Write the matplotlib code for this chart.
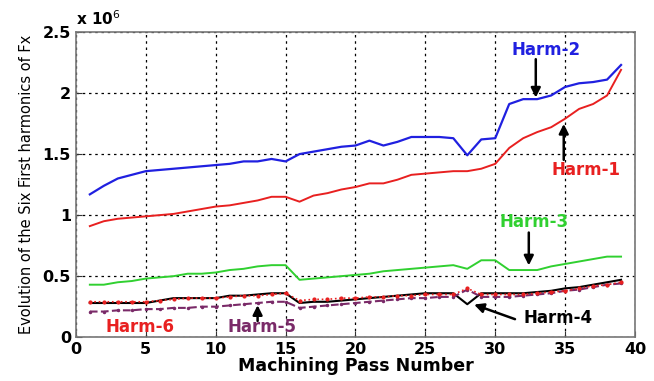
import numpy as np
import matplotlib
matplotlib.use('Agg')
import matplotlib.pyplot as plt
from matplotlib.ticker import FuncFormatter

# pass numbers 1..39
passes = list(range(1, 40))

# harmonic amplitudes in units of 1e6
harm1 = [0.91, 0.95, 0.97, 0.98, 0.99, 1.00, 1.01, 1.03, 1.05, 1.07, 1.08, 1.10, 1.12,
         1.15, 1.15, 1.11, 1.16, 1.18, 1.21, 1.23, 1.26, 1.26, 1.29, 1.33, 1.34, 1.35,
         1.36, 1.36, 1.38, 1.42, 1.55, 1.63, 1.68, 1.72, 1.79, 1.87, 1.91, 1.98, 2.19]
harm2 = [1.17, 1.24, 1.30, 1.33, 1.36, 1.37, 1.38, 1.39, 1.40, 1.41, 1.42, 1.44, 1.44,
         1.46, 1.44, 1.50, 1.52, 1.54, 1.56, 1.57, 1.61, 1.57, 1.60, 1.64, 1.64, 1.64,
         1.63, 1.49, 1.62, 1.63, 1.91, 1.95, 1.95, 1.98, 2.05, 2.08, 2.09, 2.11, 2.23]
harm3 = [0.43, 0.43, 0.45, 0.46, 0.48, 0.49, 0.50, 0.52, 0.52, 0.53, 0.55, 0.56, 0.58,
         0.59, 0.59, 0.47, 0.48, 0.49, 0.50, 0.51, 0.52, 0.54, 0.55, 0.56, 0.57, 0.58,
         0.59, 0.56, 0.63, 0.63, 0.55, 0.55, 0.55, 0.58, 0.60, 0.62, 0.64, 0.66, 0.66]
harm4 = [0.28, 0.28, 0.28, 0.28, 0.28, 0.30, 0.32, 0.32, 0.32, 0.32, 0.34, 0.34, 0.35,
         0.36, 0.36, 0.28, 0.29, 0.29, 0.30, 0.31, 0.32, 0.33, 0.34, 0.35, 0.36, 0.36,
         0.36, 0.27, 0.36, 0.36, 0.36, 0.36, 0.37, 0.38, 0.40, 0.41, 0.43, 0.45, 0.47]
harm5 = [0.21, 0.21, 0.22, 0.22, 0.23, 0.23, 0.24, 0.24, 0.25, 0.25, 0.26, 0.27, 0.28,
         0.29, 0.29, 0.24, 0.25, 0.26, 0.27, 0.28, 0.29, 0.30, 0.31, 0.32, 0.32, 0.33,
         0.33, 0.39, 0.33, 0.33, 0.33, 0.34, 0.35, 0.36, 0.38, 0.39, 0.41, 0.43, 0.44]
harm6 = [0.29, 0.29, 0.29, 0.29, 0.29, 0.30, 0.31, 0.32, 0.32, 0.32, 0.33, 0.34, 0.34,
         0.35, 0.36, 0.30, 0.31, 0.31, 0.32, 0.32, 0.33, 0.33, 0.34, 0.34, 0.35, 0.35,
         0.35, 0.40, 0.35, 0.35, 0.35, 0.35, 0.36, 0.37, 0.38, 0.40, 0.42, 0.43, 0.45]

purple = '#7a2a68'

fig = plt.figure(figsize=(6.54, 3.81), dpi=100)
ax = fig.add_axes([0.116, 0.115, 0.855, 0.801])

ax.plot(passes, harm2, color='#2020e0', lw=1.6)
ax.plot(passes, harm1, color='#e82020', lw=1.4)
ax.plot(passes, harm3, color='#30d030', lw=1.4)
ax.plot(passes, harm4, color='black', lw=1.5)
ax.plot(passes, harm5, color=purple, lw=1.5, ls='--', marker='.', ms=3)
ax.plot(passes, harm6, color='#e82020', lw=1.2, ls=':', marker='.', ms=4)

ax.set_xlim(0, 40)
ax.set_ylim(0, 2.5)
ax.set_xticks(np.arange(0, 41, 5))
ax.set_yticks(np.arange(0, 2.51, 0.5))
ax.yaxis.set_major_formatter(FuncFormatter(lambda v, p: f'{v:g}'))
ax.tick_params(direction='in', length=4, labelsize=11.5, colors='#333333', labelcolor='black')
for lab in ax.get_xticklabels() + ax.get_yticklabels():
    lab.set_fontweight('bold')
ax.grid(True, color='black', ls=(0, (2, 3)), lw=0.9)
for s in ax.spines.values():
    s.set_color('#777777')
    s.set_linewidth(1.2)

ax.set_xlabel('Machining Pass Number', fontsize=12.5, fontweight='bold', labelpad=0)
ax.set_ylabel('Evolution of the Six First harmonics of Fx', fontsize=10.5, labelpad=6,
              family='Liberation Sans Narrow')
ax.text(0.0, 1.012, r'x 10$^6$', transform=ax.transAxes, fontsize=11, fontweight='bold',
        va='bottom', ha='left')

# annotations
arrow = dict(arrowstyle='-|>', color='black', lw=1.8, mutation_scale=14)
bold = dict(fontsize=12, fontweight='bold')
ax.annotate('', xy=(32.9, 1.94), xytext=(32.9, 2.30), arrowprops=arrow)
ax.text(33.6, 2.35, 'Harm-2', color='#2020e0', ha='center', va='center', **bold)
ax.annotate('', xy=(34.9, 1.77), xytext=(34.9, 1.43), arrowprops=arrow)
ax.text(36.5, 1.37, 'Harm-1', color='#e82020', ha='center', va='center', **bold)
ax.annotate('', xy=(32.4, 0.565), xytext=(32.4, 0.88), arrowprops=arrow)
ax.text(32.8, 0.945, 'Harm-3', color='#30d030', ha='center', va='center', **bold)
ax.annotate('', xy=(28.3, 0.275), xytext=(31.6, 0.14), arrowprops=arrow)
ax.text(32.0, 0.155, 'Harm-4', color='black', ha='left', va='center', **bold)
ax.annotate('', xy=(13.0, 0.285), xytext=(13.0, 0.11), arrowprops=arrow)
ax.text(13.3, 0.08, 'Harm-5', color=purple, ha='center', va='center', **bold)
ax.text(4.6, 0.085, 'Harm-6', color='#e82020', ha='center', va='center', **bold)

fig.savefig('out.png', dpi=100)
